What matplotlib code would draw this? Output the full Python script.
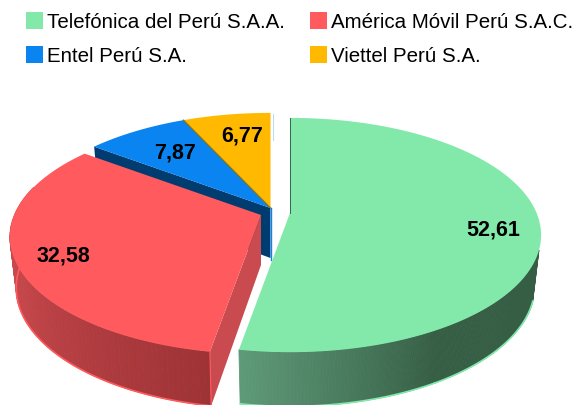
import numpy as np
import matplotlib
matplotlib.use("Agg")
import matplotlib.pyplot as plt
from matplotlib.colors import to_rgb
from matplotlib.patches import Patch, Polygon

names = ["Telefónica del Perú S.A.A.", "América Móvil Perú S.A.C.", "Entel Perú S.A.", "Viettel Perú S.A."]
shares = [52.61, 32.58, 7.87, 6.77]
colors = ["#82E9AB", "#FF5B5E", "#0A84F0", "#FFB900"]

# where each slice's tip sits, in pixels
tips = [(290, 213), (261, 215), (270.5, 208), (270.5, 208)]
label_pos = [(493, 230), (63, 256), (175, 153), (242, 136)]

plt.rcParams["font.family"] = ["Liberation Sans", "DejaVu Sans"]
fig = plt.figure(figsize=(5.74, 4.05), dpi=100)
ax = fig.add_axes([0, 0, 1, 1])
wedges, _ = ax.pie(shares, startangle=90, counterclock=False)
angles = [(w.theta1, w.theta2) for w in wedges]
for w in wedges:
    w.remove()
ax.set_aspect("auto")
ax.set_xlim(0, 574)
ax.set_ylim(405, 0)
ax.axis("off")


def top_xy(th):
    # perspective view of the unit circle
    th = np.radians(th)
    x, y = np.cos(th), np.sin(th)
    w = 1 + 0.188 * y
    return 246.6 * x / w, -113 * y / w


def bot_xy(th):
    x, y = top_xy(th)
    return x * 0.975, y * 1.03 + 50


def mix(c1, c2, f):
    c1, c2 = np.array(to_rgb(c1)), np.array(to_rgb(c2))
    return tuple(c1 + (c2 - c1) * f)


def draw_top(i, z):
    th = np.linspace(angles[i][0], angles[i][1], 200)
    x, y = top_xy(th)
    px, py = tips[i]
    pts = np.column_stack([np.r_[px, px + x], np.r_[py, py + y]])
    ax.add_patch(Polygon(pts, closed=True, fc=colors[i], ec="none", zorder=z))


def draw_rim(i, a1, a2, c1, c2, z, edge):
    # outer wall, cut in thin strips for the shading
    th = np.linspace(a1, a2, 90)
    px, py = tips[i]
    xt, yt = top_xy(th)
    xb, yb = bot_xy(th)
    for k in range(len(th) - 1):
        pts = [(px + xt[k], py + yt[k]), (px + xt[k + 1], py + yt[k + 1]),
               (px + xb[k + 1], py + yb[k + 1]), (px + xb[k], py + yb[k])]
        col = mix(c1, c2, k / (len(th) - 2))
        ax.add_patch(Polygon(pts, closed=True, fc=col, ec=col, lw=0.6, zorder=z))
    ax.plot(px + xb, py + yb, color=edge, lw=1.2, zorder=z + 0.1)


def draw_cut(i, th, col, z):
    # flat wall along one straight edge of the slice
    px, py = tips[i]
    xt, yt = top_xy(th)
    xb, yb = bot_xy(th)
    pts = [(px, py), (px + xt, py + yt), (px + xb, py + yb), (px, py + 50)]
    ax.add_patch(Polygon(pts, closed=True, fc=col, ec="none", zorder=z))


# blue and yellow at the back
draw_cut(2, angles[2][1], "#003C70", 1)
ax.plot([tips[2][0], tips[2][0]], [tips[2][1], tips[2][1] + 52], color="#0A84F0", lw=1, zorder=1.2)
draw_top(2, 2)
draw_top(3, 3)
px, py = tips[3]
xe, ye = top_xy(angles[3][1])
ax.plot([px, px + xe], [py, py + ye], color="#7A6A10", lw=1, alpha=0.8, zorder=3.1)
ax.plot([273, 273], [114, 140], color="#BBDDF0", lw=0.8, zorder=0.5)

# red
draw_rim(1, -195, angles[1][1], "#E2555A", "#9E3336", 4, "#FF5B5E")
draw_cut(1, angles[1][1], "#C94B50", 4.2)
px, py = tips[1]
xt, yt = top_xy(angles[1][1])
xb, yb = bot_xy(angles[1][1])
ax.plot([px + xt, px + xb], [py + yt, py + yb], color="#FF5B5E", lw=0.8, zorder=4.4)
draw_top(1, 5)

# green
draw_rim(0, angles[0][0], angles[0][0] + 40, "#5E9A78", "#365E45", 6, "#82E9AB")
draw_rim(0, angles[0][0] + 40, -18, "#365E45", "#365E45", 6, "#82E9AB")
draw_top(0, 7)
ax.plot([tips[0][0]] * 2, [tips[0][1], tips[0][1] - 95], color="#2F6B48", lw=0.7, zorder=7.1)

for v, (x, y) in zip(shares, label_pos):
    ax.text(x, y, f"{v:.2f}".replace(".", ","), ha="center", va="center", fontsize=15.5,
            fontweight="bold", color="black", zorder=10)

handles = [Patch(fc=c, ec="none") for c in colors]
# order runs down the columns
order = [0, 2, 1, 3]
ax.legend([handles[i] for i in order], [names[i] for i in order], ncols=2, frameon=False,
          loc="upper left", bbox_to_anchor=(0.023, 1.0), fontsize=14.8,
          handlelength=0.85, handleheight=0.85, handletextpad=0.2, columnspacing=1.2,
          labelspacing=0.72, borderaxespad=0.2, borderpad=0.4)

fig.savefig("out.png", dpi=100)
